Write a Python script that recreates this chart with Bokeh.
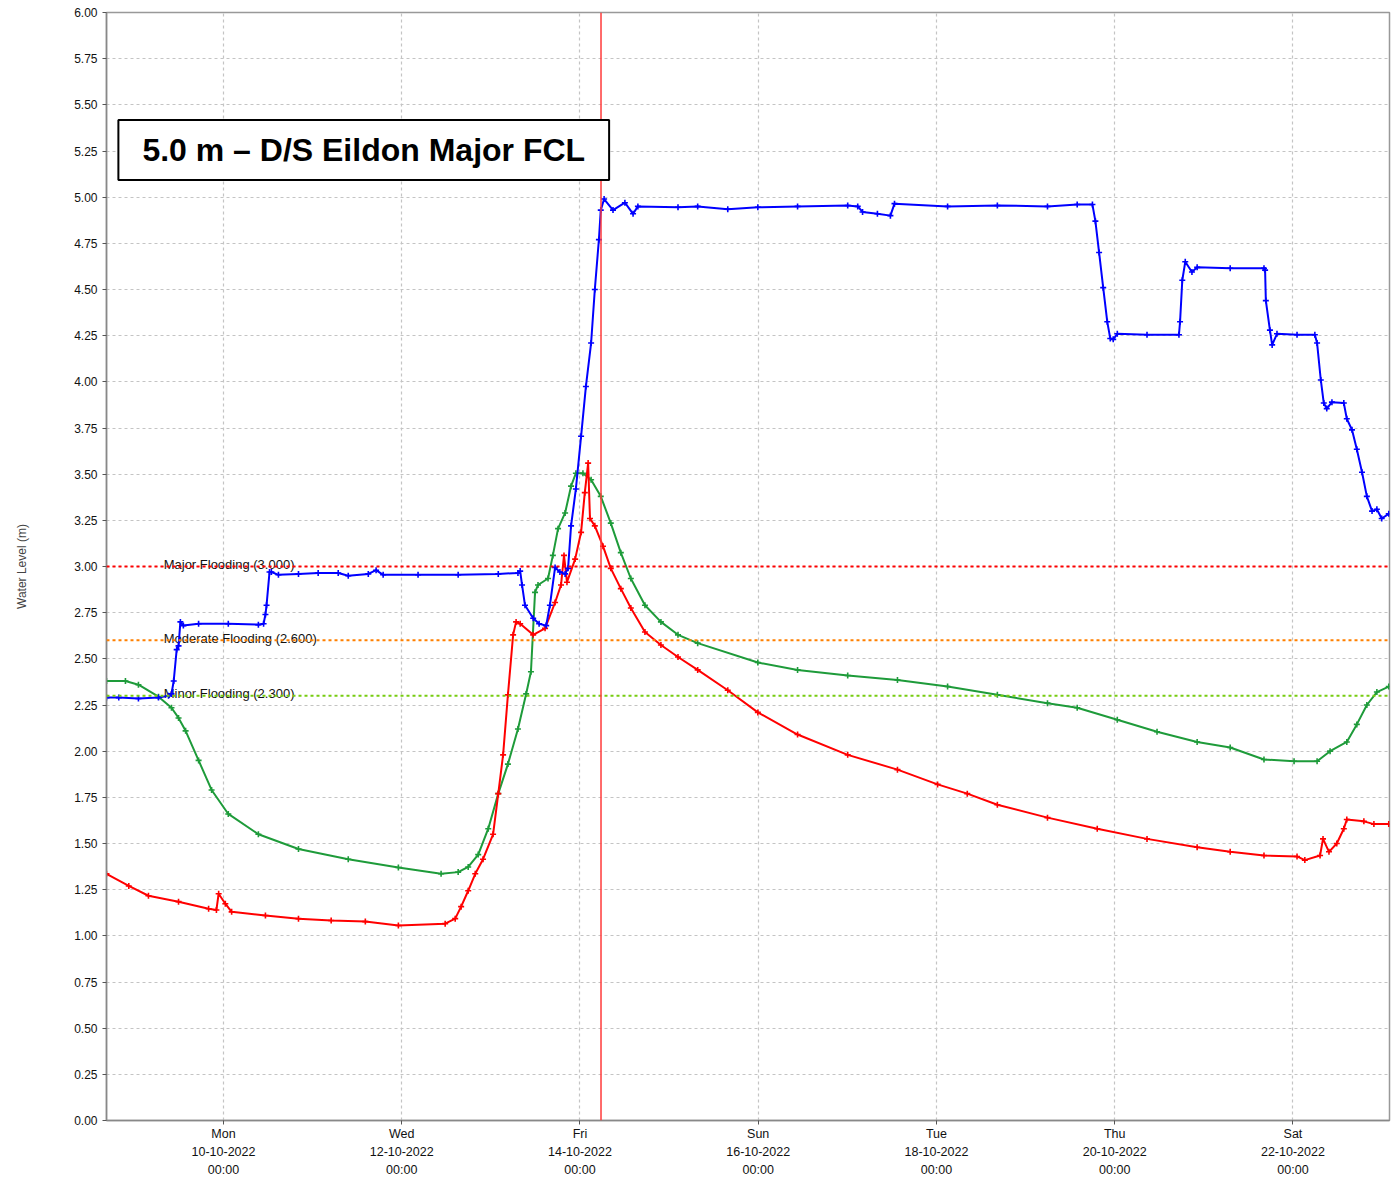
import pandas as pd
from bokeh.plotting import figure
from bokeh.models import (Span, Label, FixedTicker, DatetimeTickFormatter, Range1d,
                          SingleIntervalTicker, PrintfTickFormatter, ColumnDataSource)
from bokeh.core.properties import value
from bokeh.embed import file_html
from bokeh.resources import INLINE

# ---------------- data (hours relative to Mon 10-10-2022 00:00) ----------------
BASE = pd.Timestamp("2022-10-10 00:00")

blue_h = [-31.5, -28.2, -22.9, -17.5, -14.8, -14.0, -13.4, -12.6, -12.1, -11.6, -10.8, -6.7, 1.3, 9.4,
          10.8, 11.3, 11.6, 12.4, 12.9, 14.8, 20.2, 25.5, 30.9, 33.6, 39.0, 41.1, 43.0, 52.4, 63.2,
          74.0, 79.3, 79.9, 80.4, 81.2, 83.4, 85.0, 86.9, 87.9, 89.3, 90.6, 92.0, 92.8, 93.6, 94.9,
          96.3, 97.6, 99.0, 100.0, 101.1, 101.6, 102.5, 104.9, 108.1, 110.3, 111.6, 122.4, 127.7,
          135.8, 143.9, 154.6, 168.1, 170.8, 172.1, 176.1, 179.6, 180.7, 195.0, 208.4, 221.9, 229.9,
          234.0, 234.8, 235.8, 236.9, 238.0, 238.8, 239.6, 240.7, 248.7, 257.3, 257.6, 258.2, 259.0,
          260.8, 262.2, 271.1, 280.2, 280.5, 280.7, 281.8, 282.4, 283.7, 289.1, 293.9, 294.5, 295.5,
          296.3, 297.1, 298.5, 301.7, 302.5, 303.9, 305.2, 306.6, 307.9, 309.3, 310.6, 311.9, 313.8]
blue_v = [2.29, 2.29, 2.285, 2.29, 2.30, 2.31, 2.38, 2.55, 2.57, 2.70, 2.68, 2.69, 2.69, 2.685,
          2.69, 2.74, 2.79, 2.97, 2.97, 2.955, 2.96, 2.965, 2.965, 2.95, 2.96, 2.98, 2.955, 2.955, 2.955,
          2.96, 2.965, 2.975, 2.90, 2.79, 2.72, 2.69, 2.68, 2.79, 2.995, 2.97, 2.96, 2.99, 3.22, 3.42,
          3.705, 3.975, 4.21, 4.50, 4.77, 4.93, 4.99, 4.93, 4.97, 4.91, 4.95, 4.945, 4.95,
          4.935, 4.945, 4.95, 4.955, 4.95, 4.92, 4.91, 4.90, 4.965, 4.95, 4.955, 4.95, 4.96,
          4.96, 4.87, 4.70, 4.51, 4.325, 4.235, 4.23, 4.26, 4.255, 4.255, 4.325, 4.55, 4.65,
          4.595, 4.62, 4.615, 4.615, 4.605, 4.44, 4.28, 4.20, 4.26, 4.255, 4.255, 4.21, 4.01,
          3.885, 3.855, 3.89, 3.885, 3.80, 3.74, 3.635, 3.51, 3.38, 3.30, 3.31, 3.26, 3.285]

green_h = [-31.5, -26.4, -22.9, -17.5, -14.0, -12.1, -10.2, -6.7, -3.2, 1.3, 9.4, 20.2, 33.6, 47.1,
           58.6, 63.2, 65.9, 68.6, 71.3, 74.0, 76.6, 79.3, 81.5, 82.8, 83.9, 84.7, 87.4, 88.7, 90.1,
           92.0, 93.6, 94.9, 96.8, 99.0, 101.6, 104.3, 107.0, 109.7, 113.5, 117.8, 122.4, 127.7,
           143.9, 154.6, 168.1, 181.5, 195.0, 208.4, 221.9, 229.9, 240.7, 251.4, 262.2, 271.1,
           280.2, 288.3, 294.5, 298.0, 302.5, 305.2, 307.9, 310.6, 313.8]
green_v = [2.38, 2.38, 2.36, 2.295, 2.235, 2.18, 2.11, 1.95, 1.79, 1.66, 1.55, 1.47, 1.415, 1.37,
           1.336, 1.345, 1.373, 1.44, 1.58, 1.77, 1.93, 2.12, 2.31, 2.43, 2.86, 2.90, 2.935, 3.06, 3.205,
           3.29, 3.435, 3.505, 3.505, 3.47, 3.38, 3.235, 3.075, 2.935, 2.79, 2.70, 2.63, 2.585,
           2.48, 2.44, 2.41, 2.385, 2.35, 2.305, 2.26, 2.235, 2.17, 2.105, 2.05, 2.02,
           1.955, 1.945, 1.945, 2.00, 2.05, 2.145, 2.25, 2.32, 2.35]

red_h = [-31.5, -25.5, -20.2, -12.1, -4.0, -1.9, -1.3, 0.5, 2.2, 11.3, 20.2, 29.0, 38.2, 47.1, 59.7,
         62.4, 64.0, 65.9, 67.8, 69.9, 72.6, 74.0, 75.3, 76.6, 78.0, 78.8, 79.9, 83.4, 86.6, 89.3,
         90.9, 91.7, 92.5, 94.7, 96.3, 97.3, 98.2, 98.7, 100.0, 102.2, 104.3, 107.0, 109.7, 113.5,
         117.8, 122.4, 127.7, 135.8, 143.9, 154.6, 168.1, 181.5, 192.3, 200.3, 208.4, 221.9, 235.3,
         248.7, 262.2, 271.1, 280.2, 289.1, 291.2, 295.3, 296.1, 297.7, 299.8, 301.7, 302.5, 307.1,
         309.8, 313.8]
red_v = [1.336, 1.27, 1.217, 1.185, 1.147, 1.14, 1.228, 1.174, 1.13, 1.11, 1.093, 1.083, 1.077, 1.056, 1.066,
         1.093, 1.158, 1.244, 1.336, 1.415, 1.55, 1.77, 1.98, 2.305, 2.63, 2.70, 2.69, 2.63, 2.665, 2.805,
         2.90, 3.06, 2.915, 3.04, 3.185, 3.40, 3.56, 3.26, 3.22, 3.11, 2.99, 2.88, 2.775, 2.645,
         2.575, 2.51, 2.44, 2.33, 2.21, 2.09, 1.98, 1.90, 1.82, 1.77, 1.71, 1.64, 1.58,
         1.525, 1.48, 1.455, 1.435, 1.43, 1.41, 1.435, 1.525, 1.455, 1.50, 1.58, 1.63, 1.62,
         1.605, 1.605]

flood_levels = [3.0, 2.6, 2.3]
flood_labels = ["Major Flooding  (3.000)", "Moderate Flooding  (2.600)", "Minor Flooding  (2.300)"]
flood_colors = ["#ff0000", "#ff8000", "#77cc11"]

tick_days = ["2022-10-10", "2022-10-12", "2022-10-14", "2022-10-16", "2022-10-18",
             "2022-10-20", "2022-10-22"]
x_start_h, x_end_h = -31.5, 314.0
now_marker = "2022-10-14 05:40"
title_text = "5.0 m \u2013 D/S Eildon Major FCL"


def ms(ts):
    return pd.Timestamp(ts).value / 1e6


def to_ms(hours):
    return [ms(BASE + pd.Timedelta(hours=h)) for h in hours]


FONT = "Liberation Sans"

p = figure(width=1391, height=1179, x_axis_type="datetime", output_backend="svg",
           toolbar_location=None,
           x_range=Range1d(to_ms([x_start_h])[0], to_ms([x_end_h])[0]),
           y_range=Range1d(0, 6),
           min_border_left=106, min_border_right=2, min_border_top=12, min_border_bottom=55)

p.background_fill_color = "white"
p.border_fill_color = "white"
p.outline_line_color = "#999999"
p.outline_line_width = 1.5

# axes
p.xaxis.ticker = FixedTicker(ticks=[ms(d) for d in tick_days])
fmt = "%a\n%d-%m-%Y\n%H:%M"
p.xaxis.formatter = DatetimeTickFormatter(days=fmt, months=fmt, hours=fmt, hourmin=fmt,
                                          minutes=fmt, minsec=fmt, seconds=fmt, years=fmt,
                                          milliseconds=fmt, microseconds=fmt)
p.yaxis.ticker = SingleIntervalTicker(interval=0.25)
p.yaxis.formatter = PrintfTickFormatter(format="%.2f")
p.yaxis.axis_label = "Water Level (m)"
p.yaxis.axis_label_text_font = FONT
p.yaxis.axis_label_text_font_style = "normal"
p.yaxis.axis_label_text_font_size = "12px"
p.yaxis.axis_label_standoff = 42
for ax in (p.xaxis[0], p.yaxis[0]):
    ax.axis_line_color = "#888888"
    ax.axis_line_width = 1.5
    ax.major_tick_line_color = "#555555"
    ax.major_tick_in = 0
    ax.major_tick_out = 4
    ax.minor_tick_line_color = None
    ax.major_label_text_font = FONT
    ax.major_label_text_color = "#111111"
p.yaxis.major_label_text_font_size = "12px"
p.xaxis.major_label_text_font_size = "12.5px"
p.xaxis.major_label_text_line_height = 1.3
p.xaxis.major_label_standoff = 2

p.grid.grid_line_color = "#c4c4c4"
p.grid.grid_line_dash = "3 3"
p.grid.grid_line_width = 1.2

# flood levels
for lvl, lab, col in zip(flood_levels, flood_labels, flood_colors):
    p.add_layout(Span(location=lvl, dimension="width", line_color=col, line_width=2,
                      line_dash="3 3"))
src_lab = ColumnDataSource(dict(x=to_ms([-16.1] * 3), y=[v + 0.012 for v in flood_levels],
                                t=flood_labels))
p.text(x="x", y="y", text="t", source=src_lab, text_font=value(FONT), text_font_size="13px",
       text_baseline="alphabetic", text_align="left", text_color="#111111")

# series
for hrs, vals, col in ((green_h, green_v, "#1e9b3a"), (red_h, red_v, "#ff0000"),
                       (blue_h, blue_v, "#0000ff")):
    xs = to_ms(hrs)
    p.line(xs, vals, line_color=col, line_width=2)
    p.scatter(xs, vals, marker="cross", size=6, line_color=col, line_width=1.6)

# current time marker
p.add_layout(Span(location=ms(now_marker), dimension="height", line_color="#ff3b3b",
                  line_width=1.5))

# title box
p.add_layout(Label(x=to_ms([-28.3])[0], y=5.255, text=title_text, text_font=FONT,
                   text_font_size="32px", text_font_style="bold", text_color="black",
                   text_baseline="middle", text_align="left",
                   border_line_color="black", border_line_width=2,
                   background_fill_color="white", padding=(24, 12)))

open("out.html", "w").write(file_html(p, INLINE))
